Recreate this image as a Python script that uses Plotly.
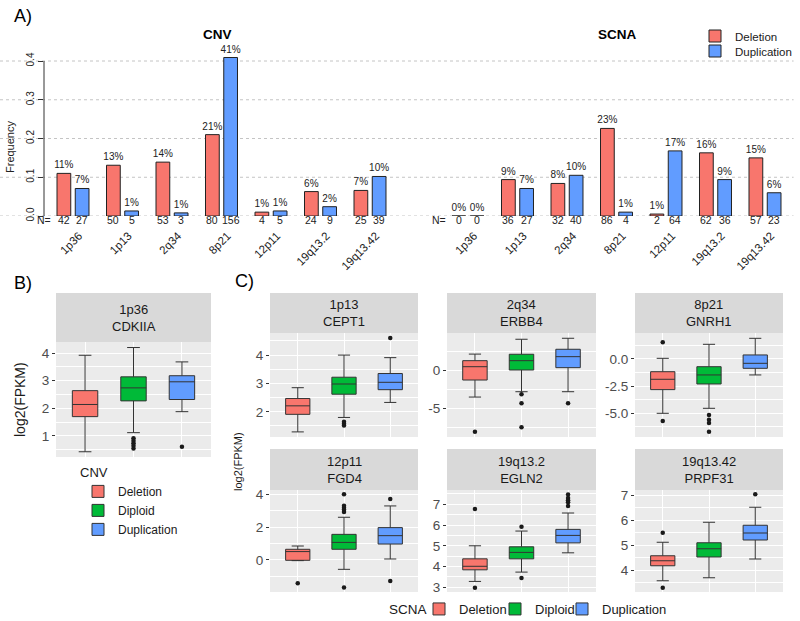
import plotly.graph_objects as go

# ---------------- data ----------------
regions = ["1p36", "1p13", "2q34", "8p21", "12p11", "19q13.2", "19q13.42"]
cnv_del = [0.110, 0.131, 0.139, 0.210, 0.010, 0.063, 0.066]
cnv_dup = [0.071, 0.013, 0.008, 0.409, 0.013, 0.024, 0.102]
scna_del = [0.000, 0.094, 0.084, 0.226, 0.005, 0.163, 0.150]
scna_dup = [0.000, 0.071, 0.105, 0.010, 0.168, 0.094, 0.060]
cnv_del_pct = ["11%", "13%", "14%", "21%", "1%", "6%", "7%"]
cnv_dup_pct = ["7%", "1%", "1%", "41%", "1%", "2%", "10%"]
scna_del_pct = ["0%", "9%", "8%", "23%", "1%", "16%", "15%"]
scna_dup_pct = ["0%", "7%", "10%", "1%", "17%", "9%", "6%"]
cnv_del_n = [42, 50, 53, 80, 4, 24, 25]
cnv_dup_n = [27, 5, 3, 156, 5, 9, 39]
scna_del_n = [0, 36, 32, 86, 2, 62, 57]
scna_dup_n = [0, 27, 40, 4, 64, 36, 23]
freq_ticks = [0.0, 0.1, 0.2, 0.3, 0.4]
freq_tick_labels = ["0.0", "0.1", "0.2", "0.3", "0.4"]

groups = ["Deletion", "Diploid", "Duplication"]
panel_titles = ["1p36<br>CDKIIA", "1p13<br>CEPT1", "2q34<br>ERBB4", "8p21<br>GNRH1",
                "12p11<br>FGD4", "19q13.2<br>EGLN2", "19q13.42<br>PRPF31"]
box_low = [[0.43, 1.12, 1.88], [1.29, 1.80, 2.33], [-3.5, -2.79, -2.79], [-5.0, -4.54, -1.47],
           [-0.04, -0.57, 0.06], [3.28, 3.73, 4.66], [3.57, 3.69, 4.44]]
box_q1 = [[1.70, 2.27, 2.32], [1.91, 2.62, 2.78], [-1.24, 0.09, 0.40], [-2.82, -2.30, -0.86],
          [-0.02, 0.65, 0.97], [3.84, 4.37, 5.14], [4.17, 4.52, 5.20]]
box_med = [[2.14, 2.74, 2.96], [2.21, 2.98, 3.04], [0.53, 1.33, 1.86], [-1.87, -1.47, -0.40],
           [0.51, 1.07, 1.48], [4.01, 4.68, 5.50], [4.37, 4.85, 5.48]]
box_q3 = [[2.64, 3.14, 3.18], [2.47, 3.22, 3.35], [1.33, 2.18, 2.84], [-1.17, -0.71, 0.37],
          [0.65, 1.56, 1.97], [4.37, 4.95, 5.79], [4.57, 5.09, 5.79]]
box_high = [[3.92, 4.20, 3.68], [2.85, 4.00, 3.91], [2.2, 4.17, 4.3], [0.06, 1.35, 1.9],
            [0.85, 2.6, 3.29], [5.0, 5.71, 6.58], [5.11, 5.91, 6.51]]
box_outliers = [
    [[], [0.92, 0.83, 0.74, 0.65, 0.55], [0.61]],
    [[], [1.65, 1.58, 1.52], [4.6]],
    [[-8.1], [-3.13, -4.33, -7.5], [-4.33]],
    [[1.54, -5.7], [-5.15, -5.6, -5.9, -6.7], []],
    [[-1.42], [4.0, 3.3, 3.18, 3.05, 2.92, -1.68], [3.71, -1.28]],
    [[6.77, 2.98], [5.92, 3.44], [7.47, 7.31, 7.2, 7.1, 6.92]],
    [[5.49, 3.29], [], [7.03]],
]
box_ranges = [[0.24, 4.4], [1.11, 4.78], [-8.8, 5.0], [-7.18, 2.39], [-1.95, 4.26], [2.77, 7.69], [3.12, 7.2]]
box_tickvals = [[1, 2, 3, 4], [2, 3, 4], [-5, 0], [-5, -2.5, 0], [0, 2, 4], [3, 4, 5, 6, 7], [4, 5, 6, 7]]
box_ticktext = [["1", "2", "3", "4"], ["2", "3", "4"], ["-5", "0"], ["-5.0", "-2.5", "0.0"],
                ["0", "2", "4"], ["3", "4", "5", "6", "7"], ["4", "5", "6", "7"]]
box_minor_step = [0.5, 0.5, 2.5, 1.25, 1, 0.5, 0.5]

# ---------------- styling / geometry ----------------
W, H = 800, 621
FONT = "Liberation Sans, Arial, sans-serif"
RED, GREEN, BLUE = "#F8766D", "#00BA38", "#619CFF"
GCOL = [RED, GREEN, BLUE]


def px(x):
    return x / W


def py(y):
    return 1 - y / H


def cat_range(x0, x1, c0, step):
    return [(x0 - c0) / step, (x1 - c0) / step]


def note(x, y, text, size, color="#1a1a1a", **kw):
    d = dict(x=px(x), y=py(y), xref="paper", yref="paper", text=text, showarrow=False,
             xanchor="center", yanchor="middle", font=dict(size=size, color=color))
    d.update(kw)
    return d


def one_legend(x, y, size):
    return dict(x=px(x), y=py(y), xanchor="left", yanchor="middle", bgcolor="rgba(0,0,0,0)",
                font=dict(size=size, color="#1a1a1a"))


BARGAP = 0.263
A_TOP, A_BOT, A_ZERO, A_SCALE = 40, 216, 216, 387.5
N_ROW_Y = 220
a_yrange = [-(A_BOT - A_ZERO) / A_SCALE, (A_ZERO - A_TOP) / A_SCALE]

# (x0, x1, panel top, panel bottom, strip top)
panel_geo = [(56, 211, 342, 457, 293),
             (270, 418, 333, 437, 293), (447, 596, 333, 437, 293), (635, 783, 333, 437, 293),
             (270, 418, 490, 592, 449), (447, 596, 490, 592, 449), (635, 783, 490, 592, 449)]

fig = go.Figure()

# ---------------- panel A bars ----------------
bar_sets = [("x", "y", cnv_del, cnv_dup, cnv_del_pct, cnv_dup_pct, True),
            ("x2", "y2", scna_del, scna_dup, scna_del_pct, scna_dup_pct, False)]
for xa, ya, dv, uv, dp, up, sl in bar_sets:
    for name, vals, pct, col, lg in (("Deletion", dv, dp, RED, "legend"),
                                     ("Duplication", uv, up, BLUE, "legend4")):
        fig.add_trace(go.Bar(
            x=regions, y=vals, name=name, text=pct, textposition="outside",
            constraintext="none", cliponaxis=False,
            textfont=dict(size=10, color="#222222", family=FONT),
            marker=dict(color=col, line=dict(color="#222222", width=1)),
            xaxis=xa, yaxis=ya, showlegend=sl, legend=lg, hoverinfo="skip"))

annotations = []
off = (1 - BARGAP) / 4
for xa, dn, un in (("x", cnv_del_n, cnv_dup_n), ("x2", scna_del_n, scna_dup_n)):
    for i in range(len(regions)):
        for dx, v in ((-off, dn[i]), (off, un[i])):
            annotations.append(dict(x=i + dx, y=py(N_ROW_Y), xref=xa, yref="paper", text=str(v),
                                    showarrow=False, font=dict(size=10.5, color="#222222"),
                                    xanchor="center", yanchor="middle"))
for xp in (44, 439):
    annotations.append(note(xp, N_ROW_Y, "N=", 10.5, "#222222"))

annotations += [
    note(217, 34, "<b>CNV</b>", 13.5, "black"),
    note(617, 34, "<b>SCNA</b>", 13.5, "black"),
    note(10, 147, "Frequency", 11, "#222222", textangle=-90),
    note(12, 16, "A)", 18, "black", xanchor="left"),
    note(12, 283, "B)", 18, "black", xanchor="left"),
    note(233, 281, "C)", 18, "black", xanchor="left"),
    note(20, 400, "log2(FPKM)", 14, textangle=-90),
    note(238, 462, "log2(FPKM)", 11, textangle=-90),
    note(387, 609, "SCNA", 13.5, xanchor="left"),
]

shapes = []
for v in freq_ticks:
    shapes.append(dict(type="line", xref="paper", yref="y", x0=0, x1=0.992, y0=v, y1=v,
                       line=dict(color="#C4C4C4", width=1, dash="dot"), layer="below"))
shapes.append(dict(type="line", xref="paper", yref="y", x0=px(44), x1=px(44), y0=freq_ticks[0],
                   y1=freq_ticks[-1], line=dict(color="#333333", width=1)))

layout = dict(
    width=W, height=H, margin=dict(l=0, r=0, t=0, b=0, autoexpand=False),
    paper_bgcolor="white", plot_bgcolor="rgba(0,0,0,0)",
    font=dict(family=FONT, color="#1a1a1a"),
    barmode="group", bargap=BARGAP, bargroupgap=0.247,
    boxmode="overlay", boxgap=0.25,
    xaxis=dict(domain=[px(44), px(400)], anchor="y", type="category", categoryorder="array",
               categoryarray=regions, range=cat_range(44, 400, 73, 49.5), tickangle=-45,
               ticks="", showgrid=False, zeroline=False, showline=False, automargin=False,
               tickfont=dict(size=11.5, color="#1a1a1a"), ticklabelshift=6,
               ticklabelstandoff=10),
    yaxis=dict(domain=[py(A_BOT), py(A_TOP)], anchor="x", range=a_yrange, tickvals=freq_ticks,
               ticktext=freq_tick_labels, tickangle=-90, ticks="outside", ticklen=5,
               tickcolor="#333333", showgrid=False, zeroline=False, showline=False,
               automargin=False, tickfont=dict(size=10, color="#222222")),
    xaxis2=dict(domain=[px(440), px(795)], anchor="y2", type="category", categoryorder="array",
                categoryarray=regions, range=cat_range(440, 795, 468, 49.5), tickangle=-45,
                ticks="", showgrid=False, zeroline=False, showline=False, automargin=False,
                tickfont=dict(size=11.5, color="#1a1a1a"), ticklabelshift=6,
                ticklabelstandoff=10),
    yaxis2=dict(domain=[py(A_BOT), py(A_TOP)], anchor="x2", range=a_yrange, showticklabels=False,
                ticks="", showgrid=False, zeroline=False, showline=False, automargin=False),
    legend=one_legend(695, 36, 11.5),
    legend4=one_legend(695, 51, 11.5),
    legend2=dict(x=px(78), y=py(460), xanchor="left", yanchor="top", bgcolor="rgba(0,0,0,0)",
                 title=dict(text="CNV", font=dict(size=13, color="#1a1a1a")),
                 font=dict(size=12, color="#1a1a1a")),
    legend3=one_legend(419, 609, 13),
    legend5=one_legend(495, 609, 13),
    legend6=one_legend(562, 609, 13),
)

c_legends = ["legend3", "legend5", "legend6"]

# ---------------- panels B and C (box plots) ----------------
for k in range(7):
    n = k + 3
    xa, ya = f"x{n}", f"y{n}"
    x0, x1, yt, yb, st = panel_geo[k]
    for g in range(3):
        fig.add_trace(go.Box(
            x=[groups[g]], q1=[box_q1[k][g]], median=[box_med[k][g]], q3=[box_q3[k][g]],
            lowerfence=[box_low[k][g]], upperfence=[box_high[k][g]],
            name=groups[g], fillcolor=GCOL[g], line=dict(color="#333333", width=1),
            boxpoints=False, xaxis=xa, yaxis=ya, hoverinfo="skip",
            showlegend=(k <= 1), legend=("legend2" if k == 0 else c_legends[g])))
        if box_outliers[k][g]:
            fig.add_trace(go.Scatter(
                x=[groups[g]] * len(box_outliers[k][g]), y=box_outliers[k][g], mode="markers",
                marker=dict(color="#1a1a1a", size=4.5), xaxis=xa, yaxis=ya,
                showlegend=False, hoverinfo="skip"))
    layout[f"xaxis{n}"] = dict(domain=[px(x0), px(x1)], anchor=ya, type="category",
                               categoryorder="array", categoryarray=groups, range=[-0.6, 2.6],
                               showticklabels=False, ticks="", showgrid=True, gridcolor="white",
                               gridwidth=1.4, zeroline=False, showline=False, automargin=False)
    layout[f"yaxis{n}"] = dict(domain=[py(yb), py(yt)], anchor=xa, range=box_ranges[k],
                               tickvals=box_tickvals[k], ticktext=box_ticktext[k], ticks="outside",
                               ticklen=3, tickcolor="#333333", automargin=False,
                               tickfont=dict(size=13.5, color="#4D4D4D"),
                               showgrid=True, gridcolor="white", gridwidth=1.4, zeroline=False,
                               showline=False,
                               minor=dict(tickmode="linear", tick0=0, dtick=box_minor_step[k],
                                          showgrid=True, gridcolor="white", gridwidth=0.7, ticks=""))
    shapes.append(dict(type="rect", xref="paper", yref="paper", x0=px(x0), x1=px(x1),
                       y0=py(yb), y1=py(yt), fillcolor="#EBEBEB", line=dict(width=0), layer="below"))
    shapes.append(dict(type="rect", xref="paper", yref="paper", x0=px(x0), x1=px(x1),
                       y0=py(yt), y1=py(st), fillcolor="#D9D9D9", line=dict(width=0), layer="below"))
    annotations.append(note((x0 + x1) / 2, (st + yt) / 2, panel_titles[k], 13))

layout["shapes"] = shapes
layout["annotations"] = annotations
fig.update_layout(**layout)
fig.write_html("out.html", config={"displayModeBar": False},
               post_script="document.body.style.margin='0px';")
